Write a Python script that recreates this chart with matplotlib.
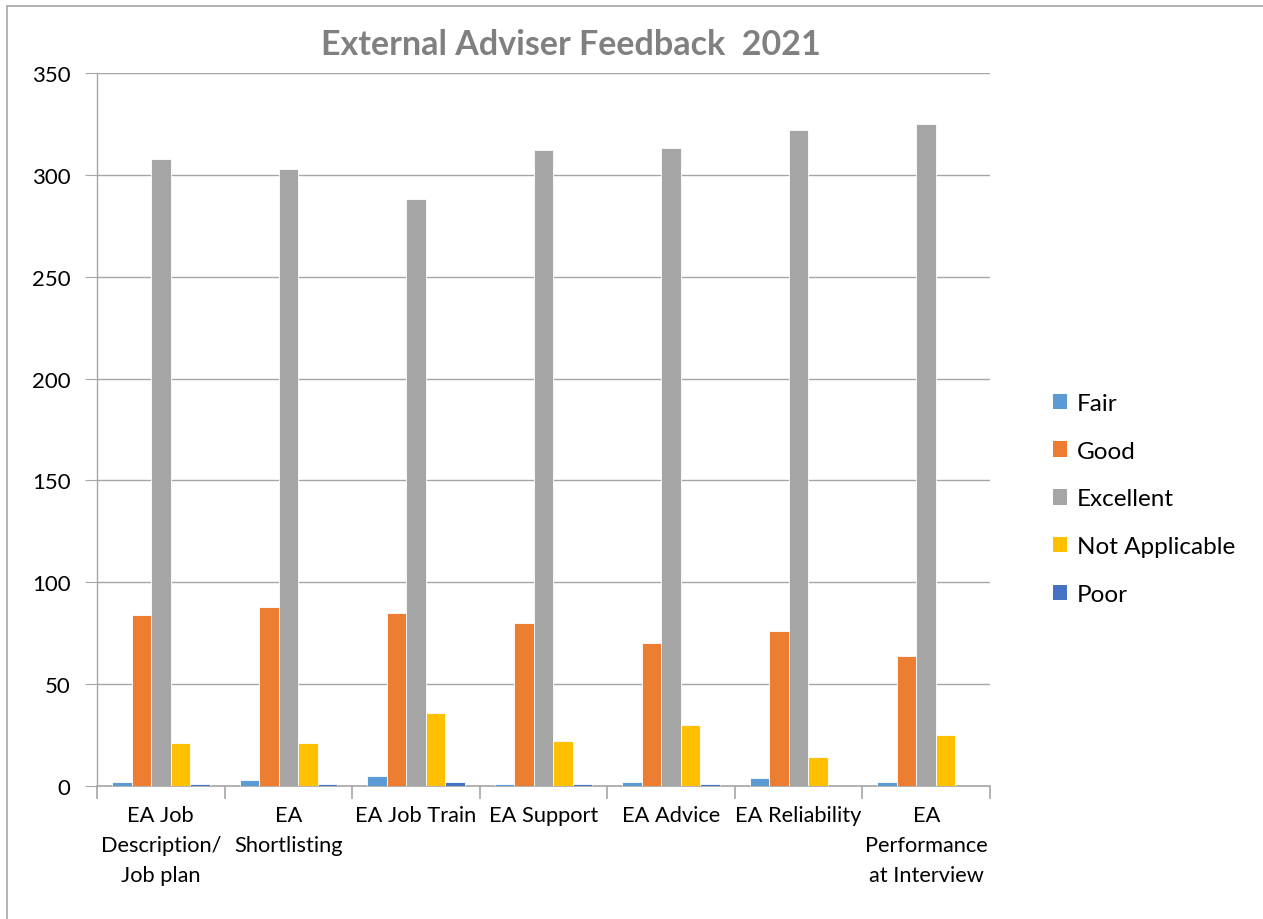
import matplotlib
matplotlib.use("Agg")
import matplotlib.pyplot as plt
import numpy as np
from matplotlib.patches import Rectangle, Patch

categories = ["EA Job\nDescription/\nJob plan", "EA\nShortlisting", "EA Job Train",
              "EA Support", "EA Advice", "EA Reliability", "EA\nPerformance\nat Interview"]
series_names = ["Fair", "Good", "Excellent", "Not Applicable", "Poor"]
fair = [2, 3, 5, 1, 2, 4, 2]
good = [84, 88, 85, 80, 70, 76, 64]
excellent = [308, 303, 288, 312, 313, 322, 325]
not_applicable = [21, 21, 36, 22, 30, 14, 25]
poor = [1, 1, 2, 1, 1, 0, 0]
colors = ["#5B9BD5", "#ED7D31", "#A5A5A5", "#FFC000", "#4472C4"]

plt.rcParams['font.family'] = ['Lato', 'DejaVu Sans']

W, H = 1263, 920
fig = plt.figure(figsize=(W/100, H/100), dpi=100)
ax = fig.add_axes([97/W, 1-787/H, (990-97)/W, (787-74)/H])

data = [fair, good, excellent, not_applicable, poor]
x = np.arange(len(categories))
bw = 0.153
for i, (vals, c, name) in enumerate(zip(data, colors, series_names)):
    ax.bar(x + (i-2)*bw, vals, bw, color=c, edgecolor='white', linewidth=0.6, label=name, zorder=3)

ax.set_xlim(-0.5, len(categories)-0.5)
ax.set_ylim(0, 350)
ax.set_yticks(range(0, 351, 50))
ax.yaxis.grid(True, color='#A6A6A6', linewidth=1.0, zorder=0)
ax.set_axisbelow(True)
for s in ['top', 'right']:
    ax.spines[s].set_visible(False)
ax.spines['left'].set_color('#A6A6A6')
ax.spines['bottom'].set_color('#A6A6A6')
ax.spines['left'].set_linewidth(1.0)
ax.spines['bottom'].set_linewidth(1.2)
ax.tick_params(axis='y', length=9, color='#A6A6A6', labelsize=16, pad=10, labelcolor='black')
ax.set_xticks(x)
ax.set_xticklabels(categories, fontsize=15.7, linespacing=1.6)
ax.tick_params(axis='x', length=0, pad=14)
ax.set_xticks(np.arange(-0.5, len(categories), 1), minor=True)
ax.tick_params(axis='x', which='minor', length=9, color='#A6A6A6', width=1.2)

fig.text(571/W, 1-45/H, "External Adviser Feedback  2021", ha='center', va='center',
         fontsize=24.5, fontweight='bold', color='#808080')

handles = [Patch(facecolor=c, label=n) for c, n in zip(colors, series_names)]
fig.legend(handles=handles, loc='center left', bbox_to_anchor=(1031/W, 1-500/H),
           frameon=False, fontsize=17.5, handlelength=0.6, handleheight=0.6,
           handletextpad=0.4, labelspacing=1.1)

fig.patches.append(Rectangle((7/W, -0.05), 1.1, 1-7/H+0.05, transform=fig.transFigure,
                             fill=False, edgecolor='#A6A6A6', linewidth=1.2))

fig.savefig("out.png", dpi=100)
